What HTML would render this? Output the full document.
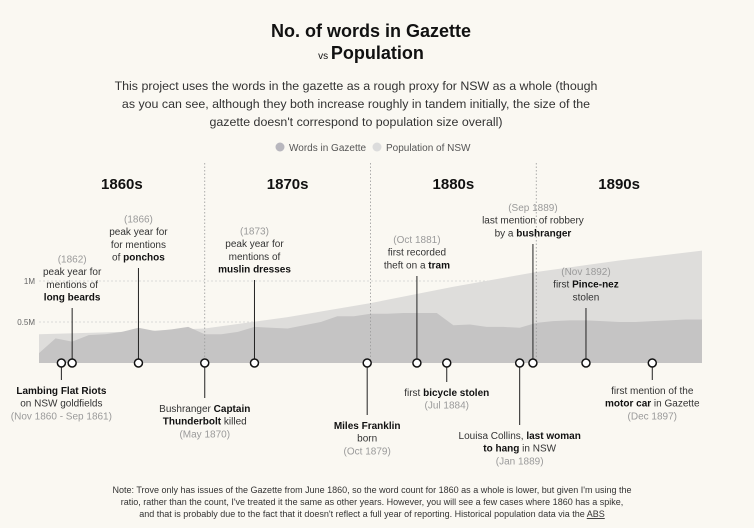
<!DOCTYPE html>
<html><head><meta charset="utf-8">
<style>
html,body{margin:0;padding:0;background:#faf8f2;}
svg{display:block;font-family:"Liberation Sans",sans-serif;}
.ann{font-size:10px;fill:#333;text-anchor:middle;}
.g{fill:#9a9a9a;}
.b{font-weight:bold;fill:#111;}
</style></head>
<body>
<svg id="chart" width="754" height="528" viewBox="0 0 754 528">
  <text x="371" y="37" text-anchor="middle" font-size="18" font-weight="bold" fill="#111">No. of words in Gazette</text>
  <text x="371" y="59" text-anchor="middle" fill="#111"><tspan font-size="10">vs </tspan><tspan font-size="18" font-weight="bold">Population</tspan></text>
  <g font-size="12.4" fill="#333" text-anchor="middle">
    <text x="356" y="90">This project uses the words in the gazette as a rough proxy for NSW as a whole (though</text>
    <text x="356" y="108">as you can see, although they both increase roughly in tandem initially, the size of the</text>
    <text x="356" y="126">gazette doesn't correspond to population size overall)</text>
  </g>
  <g font-size="10" fill="#555">
    <circle cx="280" cy="147" r="4.5" fill="#b8b7be"/>
    <text x="289" y="151">Words in Gazette</text>
    <circle cx="377" cy="147" r="4.5" fill="#dcdcdc"/>
    <text x="386" y="151">Population of NSW</text>
  </g>
  <g id="grid"></g>
  <g id="areas"></g>
  <g id="decades"></g>
  <g id="events"></g>
  <g font-size="9" fill="#333" text-anchor="middle">
    <text x="372" y="493">Note: Trove only has issues of the Gazette from June 1860, so the word count for 1860 as a whole is lower, but given I'm using the</text>
    <text x="372" y="505">ratio, rather than the count, I've treated it the same as other years. However, you will see a few cases where 1860 has a spike,</text>
    <text x="372" y="517">and that is probably due to the fact that it doesn't reflect a full year of reporting. Historical population data via the <tspan text-decoration="underline">ABS</tspan></text>
  </g>
</svg>
<script>
const years = [1860,1861,1862,1863,1864,1865,1866,1867,1868,1869,1870,1871,1872,1873,1874,1875,1876,1877,1878,1879,1880,1881,1882,1883,1884,1885,1886,1887,1888,1889,1890,1891,1892,1893,1894,1895,1896,1897,1898,1899,1900];
const words = [0.12,0.3,0.26,0.34,0.35,0.38,0.43,0.39,0.41,0.44,0.35,0.35,0.38,0.44,0.43,0.42,0.46,0.5,0.57,0.57,0.6,0.6,0.61,0.61,0.61,0.46,0.47,0.44,0.44,0.43,0.49,0.51,0.52,0.52,0.51,0.5,0.5,0.51,0.52,0.53,0.53];
const popYears = [1860,1865,1870,1875,1880,1885,1890,1895,1900];
const population = [0.35,0.38,0.42,0.56,0.73,0.93,1.11,1.25,1.37];
const yTicks = [0.5,1];
const yTickLabels = ["0.5M","1M"];
const decades = ["1860s","1870s","1880s","1890s"];
const decadeStarts = [1860,1870,1880,1890];
const events = [
 {t:1861.35,side:"down",len:17,lines:[["b","Lambing Flat Riots"],["","on NSW goldfields"],["g","(Nov 1860 - Sep 1861)"]]},
 {t:1862,side:"up",top:308,lines:[["g","(1862)"],["","peak year for"],["","mentions of"],["b","long beards"]]},
 {t:1866,side:"up",top:268,lines:[["g","(1866)"],["","peak year for"],["","for mentions"],["mix","of |ponchos"]]},
 {t:1870,side:"down",len:35,lines:[["mix","Bushranger |Captain"],["mix2","Thunderbolt| killed"],["g","(May 1870)"]]},
 {t:1873,side:"up",top:280,lines:[["g","(1873)"],["","peak year for"],["","mentions of"],["b","muslin dresses"]]},
 {t:1879.8,side:"down",len:52,lines:[["b","Miles Franklin"],["","born"],["g","(Oct 1879)"]]},
 {t:1882.8,side:"up",top:276,lines:[["g","(Oct 1881)"],["","first recorded"],["mix","theft on a |tram"]]},
 {t:1884.6,side:"down",len:19,lines:[["mix3","first |bicycle stolen"],["g","(Jul 1884)"]]},
 {t:1889.0,side:"down",len:62,lines:[["mix","Louisa Collins, |last woman"],["mix2","to hang| in NSW"],["g","(Jan 1889)"]]},
 {t:1889.8,side:"up",top:244,lines:[["g","(Sep 1889)"],["","last mention of robbery"],["mix","by a |bushranger"]]},
 {t:1893.0,side:"up",top:308,lines:[["g","(Nov 1892)"],["mix3","first |Pince-nez"],["","stolen"]]},
 {t:1897.0,side:"down",len:17,lines:[["","first mention of the"],["mix2","motor car| in Gazette"],["g","(Dec 1897)"]]}
];
const NS="http://www.w3.org/2000/svg";
const x0=39,x1=702,base=363,perM=82;
const xs=y=>x0+(y-1860)/(1900-1860)*(x1-x0);
const ys=v=>base-v*perM;
function mk(tag,attrs,parent){const e=document.createElementNS(NS,tag);for(const k in attrs)e.setAttribute(k,attrs[k]);parent.appendChild(e);return e;}
const grid=document.getElementById('grid');
yTicks.forEach((v,i)=>{
  const l=mk('line',{x1:x0,x2:x1,y1:ys(v),y2:ys(v),stroke:'#cfcfcf','stroke-dasharray':'2,2','stroke-width':0.8},grid);
  
  
  const t=mk('text',{x:x0-4,y:ys(v)+3,'text-anchor':'end','font-size':8,fill:'#666'},grid);
  t.textContent=yTickLabels[i];
  
  
});
const areas=document.getElementById('areas');
function areaPath(xv,vals){let d='M'+xs(xv[0])+','+base;xv.forEach((y,i)=>d+=' L'+xs(y)+','+ys(vals[i]));d+=' L'+xs(xv[xv.length-1])+','+base+' Z';return d;}
const pa=mk('path',{d:areaPath(popYears,population),fill:'#dedddb'},areas);


const wa=mk('path',{d:areaPath(years,words),fill:'#c5c4c4'},areas);


const dec=document.getElementById('decades');
decades.forEach((d,i)=>{
  const xa=xs(decadeStarts[i]);
  if(i>0){const l=mk('line',{x1:xa,x2:xa,y1:163,y2:base,stroke:'#999','stroke-dasharray':'1.5,2','stroke-width':0.8},dec);
  
  }
  const t=mk('text',{x:xa+(xs(1870)-xs(1860))/2,y:189,'text-anchor':'middle','font-size':15,'font-weight':'bold',fill:'#111'},dec);
  t.textContent=d;
  
  
});
const ev=document.getElementById('events');
events.forEach(e=>{
  const cx=xs(e.t);
  const g=mk('g',{},ev);
  
  
  const n=e.lines.length;
  let y1,y2,ty;
  if(e.side==='up'){y1=e.top;y2=base;ty=e.top-11-(n-1)*12.5+3;}
  else{y1=base;y2=base+e.len;ty=base+e.len+14;}
  mk('line',{x1:cx,x2:cx,y1:y1,y2:y2,stroke:'#222','stroke-width':1},g);
  e.lines.forEach((ln,i)=>{
    const t=mk('text',{x:cx,y:ty+i*12.7,class:'ann'},g);
    const [k,s]=ln;
    if(k==='b'||k==='g'){t.setAttribute('class','ann '+k);t.textContent=s;}
    else if(k===''){t.textContent=s;}
    else{const [a,b]=s.split('|');const s1=mk('tspan',{},t);s1.textContent=a;const s2=mk('tspan',{},t);s2.textContent=b;
      if(k==='mix'||k==='mix3')s2.setAttribute('class','b');else s1.setAttribute('class','b');}
  });
  const c=mk('circle',{cx:cx,cy:base,r:4,fill:'#fff',stroke:'#111','stroke-width':1.5},g);
  
  
});
</script>
</body></html>
